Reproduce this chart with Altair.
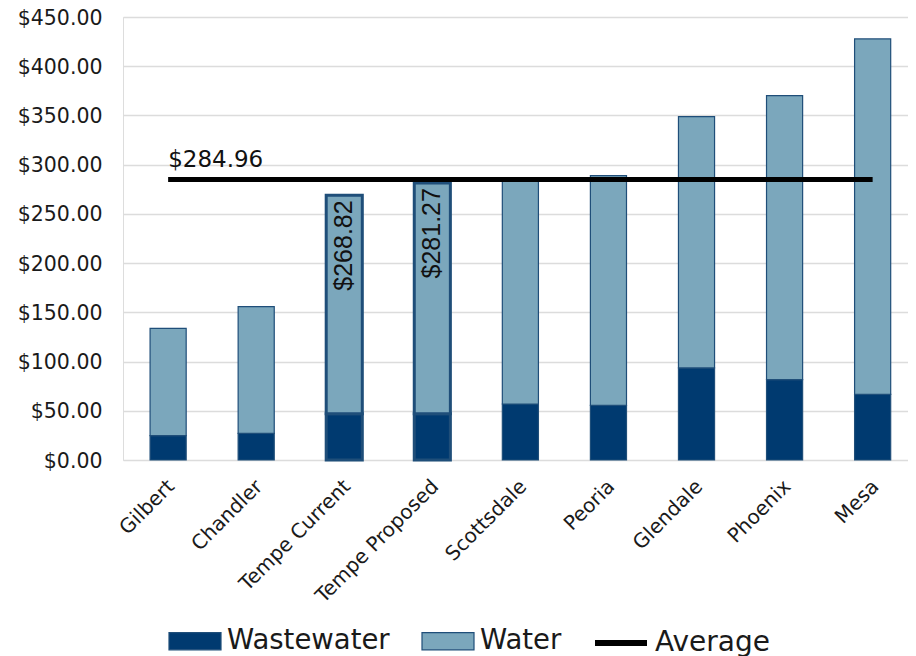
import altair as alt
import pandas as pd

cities = ["Gilbert", "Chandler", "Tempe Current", "Tempe Proposed", "Scottsdale",
          "Peoria", "Glendale", "Phoenix", "Mesa"]
wastewater = [24.7, 27.1, 47.0, 47.0, 56.9, 55.5, 93.5, 81.6, 66.7]
water = [109.1, 128.6, 221.82, 234.27, 227.0, 233.3, 255.3, 288.5, 361.0]
tempe_cities = ["Tempe Current", "Tempe Proposed"]
tempe_totals = [268.82, 281.27]
tempe_labels = ["$268.82", "$281.27"]
average_value = 284.96
average_label = "$284.96"
y_ticks = [0, 50, 100, 150, 200, 250, 300, 350, 400, 450]
series_names = ["Wastewater", "Water"]
series_colors = ["#003A70", "#7BA7BC"]

rows = []
for c, ww, w in zip(cities, wastewater, water):
    rows.append({"city": c, "series": "Wastewater", "value": ww, "order": 0, "tempe": c in tempe_cities})
    rows.append({"city": c, "series": "Water", "value": w, "order": 1, "tempe": c in tempe_cities})
bars_df = pd.DataFrame(rows)
avg_df = pd.DataFrame({"start": [cities[0]], "end": [cities[-1]], "value": [average_value],
                       "series": ["Average"], "label": [average_label]})
tempe_df = pd.DataFrame({"city": tempe_cities, "total": tempe_totals, "label": tempe_labels})

FONT = "DejaVu Sans"
x_scale = alt.Scale(domain=cities, paddingInner=0.59, paddingOuter=0.252, align=0.61)
y_scale = alt.Scale(domain=[0, 450], nice=False)

x_axis = alt.Axis(title=None, labelAngle=-45, labelFont=FONT, labelFontSize=20, labelColor="#1a1a1a",
                  ticks=False, tickSize=0, domain=False, labelPadding=16, labelOffset=-4,
                  labelAlign="right", labelBaseline="top")
y_axis = alt.Axis(title=None, values=y_ticks, format="$,.2f", labelFont=FONT, labelFontSize=20.5,
                  labelColor="#1a1a1a", ticks=False, tickSize=0, domain=False, labelPadding=21,
                  labelOffset=1, grid=True, gridColor="#DCDCDC", gridWidth=1.3)

LEG_Y = 597

bars = alt.Chart(bars_df).mark_bar(stroke="#1F4E79").encode(
    x=alt.X("city:N", scale=x_scale, axis=x_axis),
    y=alt.Y("value:Q", stack="zero", scale=y_scale, axis=y_axis),
    fill=alt.Fill("series:N", scale=alt.Scale(domain=series_names, range=series_colors),
                  legend=alt.Legend(title=None, orient="none", legendX=45, legendY=LEG_Y,
                                    direction="horizontal", symbolType="M-1,-0.33H1V0.33H-1Z",
                                    symbolSize=2704, symbolStrokeColor="#1F4E79", symbolStrokeWidth=1.2,
                                    labelFont=FONT, labelFontSize=27.5, labelColor="#1a1a1a",
                                    labelOffset=5, columnPadding=29, labelLimit=400)),
    order=alt.Order("order:Q"),
    strokeWidth=alt.when(alt.datum.tempe).then(alt.value(3)).otherwise(alt.value(1.2)),
)

rule = alt.Chart(avg_df).mark_rule(strokeWidth=5).encode(
    x=alt.X("start:N", scale=x_scale, bandPosition=0.5),
    x2=alt.X2("end:N", bandPosition=0.5),
    y=alt.Y("value:Q", scale=y_scale),
    stroke=alt.Stroke("series:N", scale=alt.Scale(domain=["Average"], range=["#000000"]),
                      legend=alt.Legend(title=None, orient="none", legendX=469, legendY=LEG_Y,
                                        direction="horizontal", symbolType="stroke",
                                        symbolSize=2704, symbolStrokeWidth=6,
                                        labelFont=FONT, labelFontSize=28, labelColor="#1a1a1a",
                                        labelOffset=5, labelLimit=400)),
)

avg_text = alt.Chart(avg_df).mark_text(align="left", baseline="alphabetic", dy=-12, font=FONT,
                                       fontSize=23, color="#111111").encode(
    x=alt.X("start:N", scale=x_scale),
    y=alt.Y("value:Q", scale=y_scale),
    text="label:N",
)

tempe_text = alt.Chart(tempe_df).mark_text(angle=270, align="right", baseline="middle", dx=-5,
                                           font="Liberation Sans", fontSize=25, color="#111111").encode(
    x=alt.X("city:N", scale=x_scale),
    y=alt.Y("total:Q", scale=y_scale),
    text="label:N",
)

chart = alt.layer(bars, rule, avg_text, tempe_text).properties(
    width=785, height=443,
    autosize=alt.AutoSizeParams(type="none"),
    padding={"left": 115, "top": 9, "right": 0, "bottom": 196},
).configure_view(stroke=None).configure(background="white")

chart.save("out.html", embed_options={"renderer": "svg", "actions": False})
